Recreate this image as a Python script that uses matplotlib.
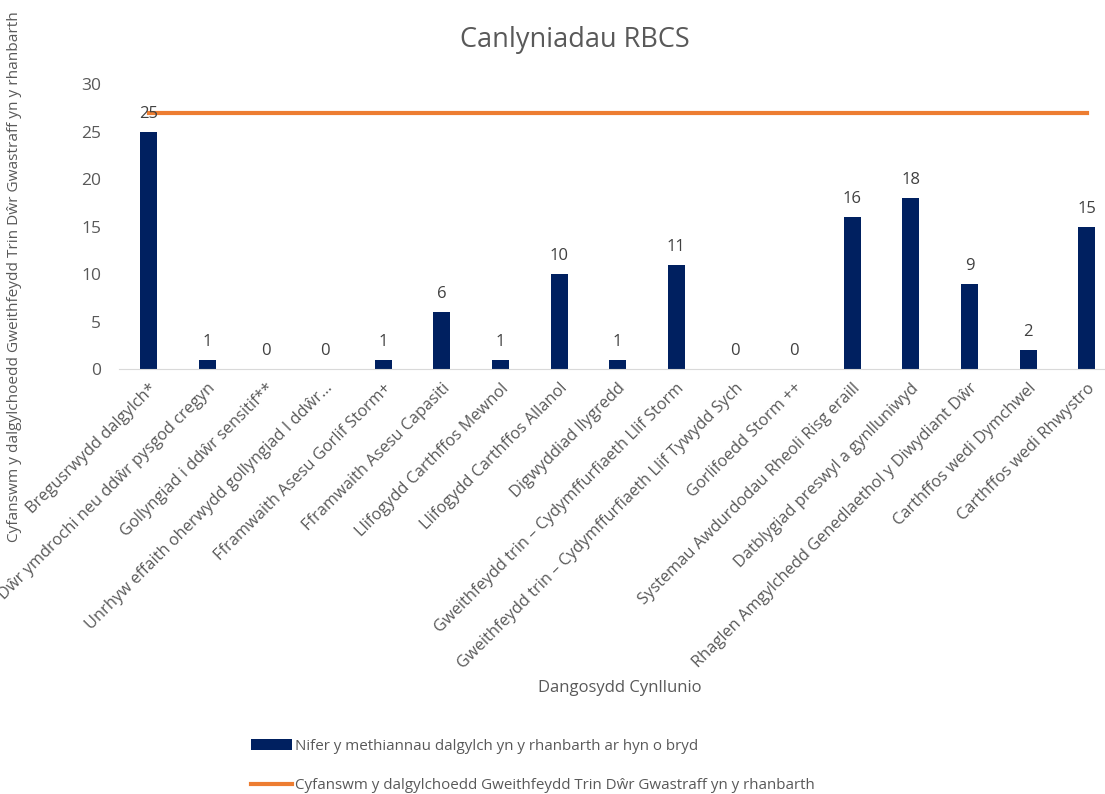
import matplotlib
matplotlib.use("Agg")
import matplotlib.pyplot as plt
import numpy as np

plt.rcParams['font.family'] = ['Open Sans', 'DejaVu Sans']

# category labels (x axis)
categories = [
    "Bregusrwydd dalgylch*",
    "Dŵr ymdrochi neu ddŵr pysgod cregyn",
    "Gollyngiad i ddŵr sensitif**",
    "Unrhyw effaith oherwydd gollyngiad I ddŵr…",
    "Fframwaith Asesu Gorlif Storm+",
    "Fframwaith Asesu Capasiti",
    "Llifogydd Carthffos Mewnol",
    "Llifogydd Carthffos Allanol",
    "Digwyddiad llygredd",
    "Gweithfeydd trin – Cydymffurfiaeth Llif Storm",
    "Gweithfeydd trin – Cydymffurfiaeth Llif Tywydd Sych",
    "Gorlifoedd Storm ++",
    "Systemau Awdurdodau Rheoli Risg eraill",
    "Datblygiad preswyl a gynlluniwyd",
    "Rhaglen Amgylchedd Genedlaethol y Diwydiant Dŵr",
    "Carthffos wedi Dymchwel",
    "Carthffos wedi Rhwystro",
]
failures = [25, 1, 0, 0, 1, 6, 1, 10, 1, 11, 0, 0, 16, 18, 9, 2, 15]
total_catchments = [27] * len(categories)

bar_label = "Nifer y methiannau dalgylch yn y rhanbarth ar hyn o bryd"
line_label = "Cyfanswm y dalgylchoedd Gweithfeydd Trin Dŵr Gwastraff yn y rhanbarth"

grey = "#595959"
navy = "#002060"
orange = "#ED7D31"

fig = plt.figure(figsize=(11.05, 7.94), dpi=100)
ax = fig.add_axes([0.108, 0.535, 0.902, 0.359])

x = np.arange(len(categories))
bars = ax.bar(x, failures, width=0.29, color=navy, label=bar_label, zorder=2)
line, = ax.plot(x, total_catchments, color=orange, lw=3, label=line_label, zorder=3)

for xi, v in zip(x, failures):
    ax.annotate(str(v), (xi, v), xytext=(0, 7), textcoords="offset points",
                ha="center", va="bottom", fontsize=12, color="#404040")

ax.set_xlim(-0.5, len(categories) - 0.5)
ax.set_ylim(0, 30)
ax.set_yticks(range(0, 31, 5))
ax.set_xticks(x)
ax.set_xticklabels(categories, rotation=45, ha="right", rotation_mode="anchor",
                   fontsize=11.8, color=grey)
ax.tick_params(axis="y", length=0, labelsize=12.5, labelcolor=grey, pad=13)
ax.tick_params(axis="x", length=0, pad=8)

for side in ["top", "right", "left"]:
    ax.spines[side].set_visible(False)
ax.spines["bottom"].set_color("#d9d9d9")

fig.text(0.52, 0.95, "Canlyniadau RBCS", ha="center", va="center",
         fontsize=19.5, color=grey)
fig.text(0.561, 0.133, "Dangosydd Cynllunio", ha="center", va="center",
         fontsize=12, color=grey)
fig.text(0.013, 0.652, line_label, rotation=90, ha="center", va="center",
         fontsize=11.1, color=grey)

fig.legend(handles=[bars, line], loc="upper left", bbox_to_anchor=(0.222, 0.077),
           frameon=False, fontsize=10.9, labelcolor=grey, handlelength=2.7,
           handletextpad=0.2, labelspacing=1.6, borderaxespad=0)

fig.savefig("out.png", dpi=100)
